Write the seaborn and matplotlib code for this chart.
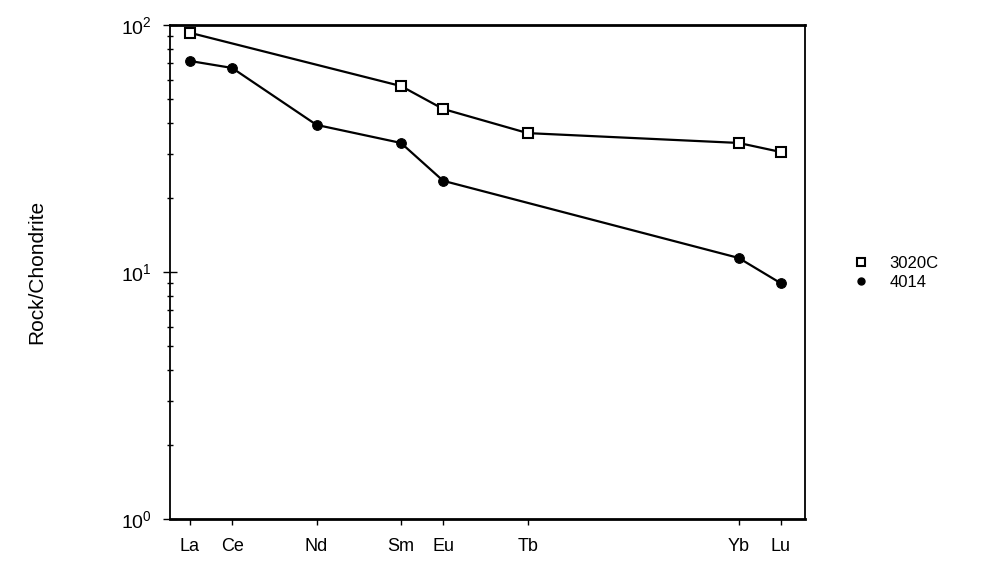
import matplotlib
matplotlib.use("Agg")
import matplotlib.pyplot as plt
import seaborn as sns
import pandas as pd
from matplotlib.lines import Line2D
from matplotlib.ticker import LogLocator, LogFormatterMathtext, NullFormatter

elements = ["La", "Ce", "Nd", "Sm", "Eu", "Tb", "Yb", "Lu"]
atomic_numbers = [57, 58, 60, 62, 63, 65, 70, 71]

s3020c_elements = ["La", "Sm", "Eu", "Tb", "Yb", "Lu"]
s3020c_values = [93.0, 56.6, 45.7, 36.5, 33.3, 30.6]

s4014_elements = ["La", "Ce", "Nd", "Sm", "Eu", "Yb", "Lu"]
s4014_values = [71.5, 67.0, 39.4, 33.3, 23.4, 11.4, 9.0]

zmap = dict(zip(elements, atomic_numbers))
df1 = pd.DataFrame({"Z": [zmap[e] for e in s3020c_elements], "val": s3020c_values})
df2 = pd.DataFrame({"Z": [zmap[e] for e in s4014_elements], "val": s4014_values})

sns.set_style("ticks")
plt.rcParams["font.family"] = ["Liberation Sans", "DejaVu Sans"]
plt.rcParams["text.color"] = "black"
plt.rcParams["axes.labelcolor"] = "black"
plt.rcParams["xtick.color"] = "black"
plt.rcParams["ytick.color"] = "black"

fig = plt.figure(figsize=(9.95, 5.77), dpi=100)
ax = fig.add_axes([0.1709, 0.1005, 0.809 - 0.1709, 0.9567 - 0.1005])

sns.lineplot(data=df1, x="Z", y="val", ax=ax, color="black", lw=1.6,
             marker="s", markersize=7, markerfacecolor="white",
             markeredgecolor="black", markeredgewidth=1.5)
sns.lineplot(data=df2, x="Z", y="val", ax=ax, color="black", lw=1.6,
             marker="o", markersize=7, markerfacecolor="black",
             markeredgecolor="black")

ax.set_yscale("log")
ax.set_ylim(1, 100)
ax.set_xlim(56.53, 71.57)
ax.yaxis.set_major_locator(LogLocator(base=10))
ax.yaxis.set_major_formatter(LogFormatterMathtext())
ax.yaxis.set_minor_locator(LogLocator(base=10, subs=range(2, 10)))
ax.yaxis.set_minor_formatter(NullFormatter())
ax.set_xticks(atomic_numbers)
ax.set_xticklabels(elements)
ax.tick_params(axis="x", direction="out", length=4, width=1, pad=10, labelsize=13)
ax.tick_params(axis="y", which="major", direction="inout", length=10, width=1, labelsize=14, pad=8)
ax.tick_params(axis="y", which="minor", direction="inout", length=5, width=1)
ax.set_xlabel("")
ax.set_ylabel("Rock/Chondrite", fontsize=15, labelpad=54)

for side in ["top", "bottom"]:
    ax.spines[side].set_visible(True)
    ax.spines[side].set_linewidth(2.0)
for side in ["left", "right"]:
    ax.spines[side].set_visible(True)
    ax.spines[side].set_linewidth(1.3)
for s in ax.spines.values():
    s.set_color("black")

handles = [
    Line2D([], [], ls="none", marker="s", markersize=6, markerfacecolor="white",
           markeredgecolor="black", markeredgewidth=1.5, color="black"),
    Line2D([], [], ls="none", marker="o", markersize=5, markerfacecolor="black",
           markeredgecolor="black", color="black"),
]
fig.legend(handles, ["3020C", "4014"], loc="center left",
           bbox_to_anchor=(0.842, 0.527), frameon=False, fontsize=12,
           labelspacing=0.2, handletextpad=1.2, handlelength=1.0)

fig.savefig("out.png", dpi=100)
